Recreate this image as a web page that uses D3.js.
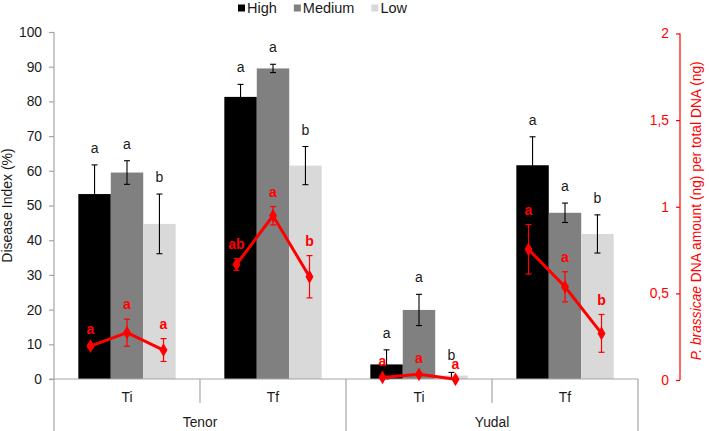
<!DOCTYPE html>
<html><head><meta charset="utf-8">
<script src="https://cdn.jsdelivr.net/npm/d3@7"></script>
<style>body{margin:0;background:#fff}svg{display:block;font-family:"Liberation Sans",Arial,sans-serif}</style>
</head><body><svg id="c" width="709" height="431"></svg>
<script>
const cultivars = ["Tenor", "Yudal"];
const timepoints = ["Ti", "Tf"];
const levels = ["High", "Medium", "Low"];
const yTicksLeft = [0, 10, 20, 30, 40, 50, 60, 70, 80, 90, 100];
const yTicksRight = [0, 0.5, 1, 1.5, 2];
const yTickLabelsRight = ["0", "0,5", "1", "1,5", "2"];

// Disease index (%) per group: Tenor-Ti, Tenor-Tf, Yudal-Ti, Yudal-Tf
const diHigh = [53.3, 81.3, 4.2, 61.6];
const diMedium = [59.5, 89.5, 19.9, 47.9];
const diLow = [44.7, 61.5, 1.0, 41.8];
const diErrHigh = [8.4, 3.6, 4.2, 8.2];
const diErrMedium = [3.4, 1.2, 4.5, 2.8];
const diErrLow = [8.6, 5.5, 0.9, 5.5];
const diLetHigh = ["a", "a", "a", "a"];
const diLetMedium = ["a", "a", "a", "a"];
const diLetLow = ["b", "b", "b", "b"];

// P. brassicae DNA amount (ng) per total DNA (ng)
const dnaHigh = [0.196, 0.667, 0.015, 0.754];
const dnaMedium = [0.273, 0.948, 0.033, 0.538];
const dnaLow = [0.173, 0.596, 0.004, 0.269];
const dnaErrHigh = [0.012, 0.034, 0.006, 0.143];
const dnaErrMedium = [0.078, 0.053, 0.008, 0.087];
const dnaErrLow = [0.066, 0.122, 0.004, 0.109];
const dnaLetHigh = ["a", "ab", "a", "a"];
const dnaLetMedium = ["a", "a", "a", "a"];
const dnaLetLow = ["a", "b", "a", "b"];

const groups = [];
cultivars.forEach(c => timepoints.forEach(t => groups.push(c + "|" + t)));
const di = {High: diHigh, Medium: diMedium, Low: diLow};
const diErr = {High: diErrHigh, Medium: diErrMedium, Low: diErrLow};
const diLet = {High: diLetHigh, Medium: diLetMedium, Low: diLetLow};
const dna = {High: dnaHigh, Medium: dnaMedium, Low: dnaLow};
const dnaErr = {High: dnaErrHigh, Medium: dnaErrMedium, Low: dnaErrLow};
const dnaLet = {High: dnaLetHigh, Medium: dnaLetMedium, Low: dnaLetLow};
const colors = {High: "#000000", Medium: "#808080", Low: "#d9d9d9"};
const RED = "#ff0000";

const svg = d3.select("#c");
const L = 54, R = 638, T = 32, B = 379;
const x0 = d3.scaleBand().domain(groups).range([L, R]).padding(0);
const x1 = d3.scaleBand().domain(levels).range([0, x0.bandwidth()]).paddingInner(0).paddingOuter(0.75);
const xp = d3.scalePoint().domain(levels).range([x0.bandwidth() / 4, x0.bandwidth() * 3 / 4]);
const yL = d3.scaleLinear().domain([0, 100]).range([B, T]);
const yR = d3.scaleLinear().domain([0, 2]).range([B + 1, T + 1.5]);

// bars
const barData = [];
groups.forEach((g, i) => levels.forEach(l => barData.push({g, l, v: di[l][i], e: diErr[l][i], t: diLet[l][i]})));
svg.append("g").selectAll("rect").data(barData).join("rect")
  .attr("x", d => x0(d.g) + x1(d.l)).attr("width", x1.bandwidth())
  .attr("y", d => yL(d.v)).attr("height", d => yL(0) - yL(d.v))
  .attr("fill", d => colors[d.l]);

// black error bars
const eb = svg.append("g").attr("stroke", "#000").attr("stroke-width", 1.1);
barData.forEach(d => {
  const cx = x0(d.g) + x1(d.l) + x1.bandwidth() / 2;
  const y1 = yL(d.v + d.e), y2 = yL(Math.max(0, d.v - d.e));
  eb.append("line").attr("x1", cx).attr("x2", cx).attr("y1", y1).attr("y2", y2);
  eb.append("line").attr("x1", cx - 3).attr("x2", cx + 3).attr("y1", y1).attr("y2", y1);
  eb.append("line").attr("x1", cx - 3).attr("x2", cx + 3).attr("y1", y2).attr("y2", y2);
});
svg.append("g").selectAll("text").data(barData).join("text")
  .attr("x", d => x0(d.g) + x1(d.l) + x1.bandwidth() / 2)
  .attr("y", d => yL(d.v + d.e) - 12)
  .attr("text-anchor", "middle").attr("font-size", 14).attr("fill", "#1a1a1a")
  .text(d => d.t);

// axes lines
const axisCol = "#a6a6a6";
const ax = svg.append("g").attr("stroke", axisCol).attr("stroke-width", 1.2);
ax.append("line").attr("x1", L).attr("x2", L).attr("y1", T).attr("y2", 431);
ax.append("line").attr("x1", L - 4).attr("x2", R).attr("y1", B).attr("y2", B);
// left ticks
const gl = svg.append("g").attr("transform", `translate(${L},0)`)
  .call(d3.axisLeft(yL).tickValues(yTicksLeft).tickSize(5).tickPadding(7));
gl.select(".domain").remove();
gl.selectAll(".tick line").attr("stroke", axisCol).attr("stroke-width", 1.2);
gl.selectAll(".tick text").attr("font-size", 13.8).attr("fill", "#1a1a1a").attr("font-family", "Liberation Sans, Arial, sans-serif");

// category separators
groups.forEach((g, i) => {
  if (i % 2 === 1) {
    ax.append("line").attr("x1", x0(g)).attr("x2", x0(g)).attr("y1", B).attr("y2", 403);
  }
});
cultivars.forEach((c, ci) => {
  const xe = x0(c + "|" + timepoints[timepoints.length - 1]) + x0.bandwidth();
  ax.append("line").attr("x1", xe).attr("x2", xe).attr("y1", B).attr("y2", 431);
});
svg.append("g").selectAll("text").data(groups).join("text")
  .attr("x", d => x0(d) + x0.bandwidth() / 2).attr("y", 402)
  .attr("text-anchor", "middle").attr("font-size", 13.8).attr("fill", "#1a1a1a")
  .text(d => d.split("|")[1]);
svg.append("g").selectAll("text").data(cultivars).join("text")
  .attr("x", c => (x0(c + "|" + timepoints[0]) + x0(c + "|" + timepoints[1]) + x0.bandwidth()) / 2).attr("y", 427)
  .attr("text-anchor", "middle").attr("font-size", 13.8).attr("fill", "#1a1a1a")
  .text(c => c);

// left title
svg.append("text").attr("transform", `translate(12,${(T + B) / 2}) rotate(-90)`)
  .attr("text-anchor", "middle").attr("font-size", 14).attr("fill", "#1a1a1a")
  .text("Disease Index (%)");

// right axis
const RX = 680;
const gr = svg.append("g").attr("transform", `translate(${RX},0)`)
  .call(d3.axisLeft(yR).tickValues(yTicksRight).tickFormat((d, i) => yTickLabelsRight[i]).tickSize(4).tickPadding(7));
gr.select(".domain").attr("stroke", RED).attr("stroke-width", 1.2).attr("d", `M0,${yR(2)}V${yR(0)}`);
gr.selectAll(".tick line").attr("stroke", RED).attr("stroke-width", 1.2);
gr.selectAll(".tick text").attr("font-size", 13.8).attr("fill", RED).attr("font-family", "Liberation Sans, Arial, sans-serif");
const rt = svg.append("text").attr("transform", `translate(701,${(yR(0) + yR(2)) / 2 + 4}) rotate(-90)`)
  .attr("text-anchor", "middle").attr("font-size", 13.8).attr("fill", RED);
rt.append("tspan").attr("font-style", "italic").text("P. brassicae");
rt.append("tspan").text(" DNA amount (ng) per total DNA (ng)");

// red line
const lineG = svg.append("g");
const line = d3.line().x(d => d.x).y(d => d.y);
groups.forEach((g, i) => {
  const pts = levels.map(l => ({x: x0(g) + xp(l), y: yR(dna[l][i]), v: dna[l][i], e: dnaErr[l][i], t: dnaLet[l][i]}));
  pts.forEach(p => {
    const y1 = yR(p.v + p.e), y2 = yR(Math.max(0, p.v - p.e));
    lineG.append("line").attr("x1", p.x).attr("x2", p.x).attr("y1", y1).attr("y2", y2).attr("stroke", RED).attr("stroke-width", 1.2);
    [y1, y2].forEach(yy => lineG.append("line").attr("x1", p.x - 3).attr("x2", p.x + 3).attr("y1", yy).attr("y2", yy).attr("stroke", RED).attr("stroke-width", 1.2));
  });
  lineG.append("path").attr("d", line(pts)).attr("fill", "none").attr("stroke", RED).attr("stroke-width", 3);
  lineG.selectAll(null).data(pts).join("path")
    .attr("d", d3.symbol(d3.symbolDiamond, 55))
    .attr("transform", p => `translate(${p.x},${p.y})`).attr("fill", RED);
  lineG.selectAll(null).data(pts).join("text")
    .attr("x", p => p.x).attr("y", p => yR(p.v + p.e) - 10)
    .attr("text-anchor", "middle").attr("font-size", 14).attr("font-weight", "bold").attr("fill", RED)
    .text(p => p.t);
});

// legend
const leg = svg.append("g").attr("transform", "translate(238,0)");
let lx = 0;
levels.forEach(l => {
  const gg = leg.append("g").attr("transform", `translate(${lx},0)`);
  gg.append("rect").attr("x", 0).attr("y", 4.5).attr("width", 7).attr("height", 7).attr("fill", colors[l]);
  const t = gg.append("text").attr("x", 9).attr("y", 13).attr("font-size", 14.5).attr("fill", "#1a1a1a").text(l);
  lx += 9 + t.node().getComputedTextLength() + 17;
});
</script></body></html>
